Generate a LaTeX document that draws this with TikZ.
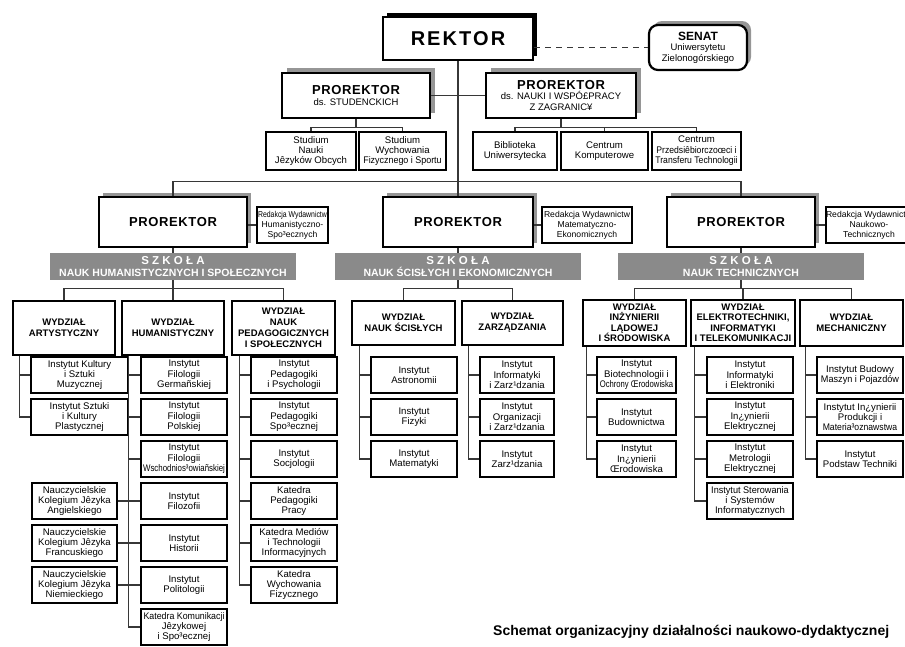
\documentclass[tikz,border=0pt]{standalone}
\usepackage{fontspec}
\usepackage{graphicx}
\setmainfont{Liberation Sans}
\definecolor{barg}{RGB}{138,138,138}
\definecolor{shg}{RGB}{150,150,150}
\definecolor{lng}{RGB}{55,55,55}
\tikzset{
  conn/.style={draw=lng, line width=1.1pt},
  inst/.style={draw=black, line width=1.3pt, fill=white, align=center, inner sep=0pt, font=\fontsize{9.6}{10.4}\selectfont},
  wydz/.style={draw=black, line width=2.5pt, fill=white, align=center, inner sep=0pt, font=\fontsize{9.5}{11}\selectfont\bfseries},
  prbox/.style={draw=black, line width=2.6pt, fill=white, align=center, inner sep=0pt},
  barbox/.style={fill=barg, draw=none, text=white, align=center, inner sep=0pt, font=\fontsize{10.5}{11.5}\selectfont\bfseries},
}
\newcommand\obox[7]{\node[#1,minimum width={(#5-#3)*1pt},minimum height={(#6-#4)*1pt}] (#2) at ({(#3+#5)/2},{(#4+#6)/2}) {#7};}
\newcommand\instbox[6][]{\node[inst,#1,minimum width={(#4-#3)*1pt},minimum height=36pt] (#2) at ({(#3+#4)/2},{375+42*#5}) {#6};}
\newcommand\sq[2]{\scalebox{#1}[1]{#2}}
\newcommand\prorek{P\kern.6pt R\kern.6pt O\kern.6pt R\kern.6pt E\kern.6pt K\kern.6pt T\kern.6pt O\kern.6pt R}
\newcommand\szkola{{\fontsize{11.5}{12}\selectfont S\kern3.2pt Z\kern3.2pt K\kern3.2pt O\kern3.2pt Ł\kern3.2pt A}}
\begin{document}
\begin{tikzpicture}[x=1pt,y=-1pt]
\useasboundingbox (0,0) rectangle (905,646);
% shadows
\fill[black] (387,13) rectangle (537,56);
\fill[shg, rounded corners=9pt] (653,21) rectangle (751,66);
\fill[shg] (287,68) rectangle (435,113);
\fill[shg] (491,68) rectangle (641,113);
\fill[shg] (103,193) rectangle (251,243);
\fill[shg] (387,193) rectangle (537,243);
\fill[shg] (671,193) rectangle (819,243);
% top level
\obox{prbox,line width=2.8pt}{rek}{383}{17}{533}{60}{\fontsize{20}{22}\selectfont\bfseries R\kern2pt E\kern2pt K\kern2pt T\kern2pt O\kern2pt R}
\obox{draw,line width=2.2pt,rounded corners=9pt,fill=white,align=center,inner sep=0pt,font=\fontsize{9.5}{10.5}\selectfont}{sen}{649}{25}{747}{70}{{\fontsize{12}{13}\selectfont\bfseries SENAT}\\Uniwersytetu\\Zielonogórskiego}
\obox{prbox,font=\fontsize{9.5}{11}\selectfont}{ps}{282}{73}{430}{118}{{\fontsize{13}{15}\selectfont\bfseries\prorek}\\ds. STUDENCKICH}
\obox{prbox,font=\fontsize{9.5}{10.5}\selectfont}{pn}{486}{73}{636}{118}{{\fontsize{13}{15}\selectfont\bfseries\prorek}\\ds. NAUKI I WSPÓ£PRACY\\Z ZAGRANIC¥}
\obox{inst}{sA}{266}{132}{356}{170}{Studium\\Nauki\\Jêzyków Obcych}
\obox{inst}{sB}{359}{132}{446}{170}{Studium\\Wychowania\\\sq{0.93}{Fizycznego i Sportu}}
\obox{inst}{sC}{473}{132}{557}{170}{Biblioteka\\Uniwersytecka}
\obox{inst}{sD}{561}{132}{648}{170}{Centrum\\Komputerowe}
\obox{inst}{sE}{652}{132}{741}{170}{Centrum\\\sq{0.9}{Przedsiêbiorczoœci i}\\\sq{0.9}{Transferu Technologii}}
% prorektor row
\obox{prbox}{lp}{99}{197}{247}{247}{\fontsize{13}{15}\selectfont\bfseries\prorek}
\obox{prbox}{mp}{383}{197}{533}{247}{\fontsize{13}{15}\selectfont\bfseries\prorek}
\obox{prbox}{rp}{667}{197}{815}{247}{\fontsize{13}{15}\selectfont\bfseries\prorek}
\obox{inst,font=\fontsize{8.6}{10}\selectfont}{lr}{257}{207}{328}{243}{\sq{0.8}{Redakcja Wydawnictw}\\Humanistyczno-\\Spo³ecznych}
\obox{inst,font=\fontsize{8.6}{10}\selectfont}{mr}{542}{207}{632}{243}{Redakcja Wydawnictw\\Matematyczno-\\Ekonomicznych}
\obox{inst,font=\fontsize{8.6}{10}\selectfont}{rr}{826}{207}{912}{243}{Redakcja Wydawnictw\\Naukowo-\\Technicznych}
\obox{barbox}{lb}{50}{253}{296}{280}{\szkola\\NAUK HUMANISTYCZNYCH I SPOŁECZNYCH}
\obox{barbox}{mb}{335}{253}{581}{280}{\szkola\\NAUK ŚCISŁYCH I EKONOMICZNYCH}
\obox{barbox}{rb}{618}{253}{864}{280}{\szkola\\NAUK TECHNICZNYCH}
% wydzialy
\obox{wydz}{W1}{13}{301}{115}{355}{WYDZIAŁ\\ARTYSTYCZNY}
\obox{wydz}{W2}{122}{301}{224}{355}{WYDZIAŁ\\HUMANISTYCZNY}
\obox{wydz}{W3}{232}{301}{335}{355}{WYDZIAŁ\\NAUK\\PEDAGOGICZNYCH\\I SPOŁECZNYCH}
\obox{wydz}{W4}{352}{301}{455}{345}{WYDZIAŁ\\NAUK ŚCISŁYCH}
\obox{wydz}{W5}{462}{301}{563}{345}{WYDZIAŁ\\ZARZĄDZANIA}
\obox{wydz,font=\fontsize{9.5}{10.5}\selectfont\bfseries}{W6}{583}{300}{686}{346}{WYDZIAŁ\\INŻYNIERII\\LĄDOWEJ\\I ŚRODOWISKA}
\obox{wydz,font=\fontsize{9.5}{10.5}\selectfont\bfseries}{W7}{691}{300}{795}{346}{WYDZIAŁ\\ELEKTROTECHNIKI,\\INFORMATYKI\\I TELEKOMUNIKACJI}
\obox{wydz}{W8}{800}{300}{903}{346}{WYDZIAŁ\\MECHANICZNY}
% instytuty
\instbox{a1}{31}{128}{0}{Instytut Kultury\\i Sztuki\\Muzycznej}
\instbox{a2}{31}{128}{1}{Instytut Sztuki\\i Kultury\\Plastycznej}
\instbox{h1}{141}{227}{0}{Instytut\\Filologii\\Germañskiej}
\instbox{h2}{141}{227}{1}{Instytut\\Filologii\\Polskiej}
\instbox{h3}{141}{227}{2}{Instytut\\Filologii\\\sq{0.82}{Wschodnios³owiañskiej}}
\instbox{h4}{141}{227}{3}{Instytut\\Filozofii}
\instbox{h5}{141}{227}{4}{Instytut\\Historii}
\instbox{h6}{141}{227}{5}{Instytut\\Politologii}
\instbox{h7}{141}{227}{6}{\sq{0.92}{Katedra Komunikacji}\\Jêzykowej\\i Spo³ecznej}
\instbox{n1}{32}{117}{3}{Nauczycielskie\\Kolegium Jêzyka\\Angielskiego}
\instbox{n2}{32}{117}{4}{Nauczycielskie\\Kolegium Jêzyka\\Francuskiego}
\instbox{n3}{32}{117}{5}{Nauczycielskie\\Kolegium Jêzyka\\Niemieckiego}
\instbox{p1}{251}{337}{0}{Instytut\\Pedagogiki\\i Psychologii}
\instbox{p2}{251}{337}{1}{Instytut\\Pedagogiki\\Spo³ecznej}
\instbox{p3}{251}{337}{2}{Instytut\\Socjologii}
\instbox{p4}{251}{337}{3}{Katedra\\Pedagogiki\\Pracy}
\instbox{p5}{251}{337}{4}{Katedra Mediów\\i Technologii\\Informacyjnych}
\instbox{p6}{251}{337}{5}{Katedra\\Wychowania\\Fizycznego}
\instbox{e1}{371}{457}{0}{Instytut\\Astronomii}
\instbox{e2}{371}{457}{1}{Instytut\\Fizyki}
\instbox{e3}{371}{457}{2}{Instytut\\Matematyki}
\instbox{z1}{480}{554}{0}{Instytut\\Informatyki\\i Zarz¹dzania}
\instbox{z2}{480}{554}{1}{Instytut\\Organizacji\\i Zarz¹dzania}
\instbox{z3}{480}{554}{2}{Instytut\\Zarz¹dzania}
\instbox{l1}{597}{676}{0}{Instytut\\Biotechnologii i\\\sq{0.8}{Ochrony Œrodowiska}}
\instbox{l2}{597}{676}{1}{Instytut\\Budownictwa}
\instbox{l3}{597}{676}{2}{Instytut\\In¿ynierii\\Œrodowiska}
\instbox{t1}{707}{793}{0}{Instytut\\Informatyki\\i Elektroniki}
\instbox{t2}{707}{793}{1}{Instytut\\In¿ynierii\\Elektrycznej}
\instbox{t3}{707}{793}{2}{Instytut\\Metrologii\\Elektrycznej}
\instbox{t4}{707}{793}{3}{\sq{0.95}{Instytut Sterowania}\\i Systemów\\Informatycznych}
\instbox{m1}{817}{903}{0}{Instytut Budowy\\\sq{0.95}{Maszyn i Pojazdów}}
\instbox{m2}{817}{903}{1}{Instytut In¿ynierii\\Produkcji i\\\sq{0.9}{Materia³oznawstwa}}
\instbox{m3}{817}{903}{2}{Instytut\\Podstaw Techniki}
% caption
\node[font=\fontsize{14}{16}\selectfont\bfseries, anchor=west, inner sep=0pt] (cap) at (493,632) {Schemat organizacyjny działalności naukowo-dydaktycznej};
% connectors top
\draw[conn] (rek.south) -- (mp.north);
\draw[draw=lng, line width=1.1pt, dash pattern=on 6pt off 5pt] (sen.west -| rek.east) -- (sen.west);
\draw[conn] (ps.east) -- (pn.west);
\draw[conn] (ps.south) -- ++(0,8) coordinate (psb);
\draw[conn] (sA.north) |- (psb) -| (sB.north);
\draw[conn] (pn.south) -- ++(0,8) coordinate (pnb);
\draw[conn] (sC.north) |- (pnb) -| (sE.north);
\draw[conn] (sD.north) -- (sD.north |- pnb);
% prorektor row
\draw[conn] (lp.north) -- ++(0,-14) -| (rp.north);
\draw[conn] (lp.east |- lr.west) -- (lr.west);
\draw[conn] (mp.east |- mr.west) -- (mr.west);
\draw[conn] (rp.east |- rr.west) -- (rr.west);
\draw[conn] (lp.south) -- (lb.north);
\draw[conn] (mp.south) -- (mb.north);
\draw[conn] (rp.south) -- (rb.north);
% school brackets
\draw[conn] (lb.south) -- ++(0,8) coordinate (lbb);
\draw[conn] (W1.north) |- (lbb) -| (W3.north);
\draw[conn] (W2.north) -- (W2.north |- lbb);
\draw[conn] (mb.south) -- ++(0,8) coordinate (mbb);
\draw[conn] (W4.north) |- (mbb) -| (W5.north);
\draw[conn] (rb.south) -- ++(0,8) coordinate (rbb);
\draw[conn] (W6.north) |- (rbb) -| (W8.north);
\draw[conn] (W7.north) -- (W7.north |- rbb);
% spines
\foreach \n in {a1,a2} \draw[conn] ([xshift=8pt]W1.south west) |- (\n.west);
\foreach \n in {h1,h2,h3,h4,h5,h6,h7} \draw[conn] ([xshift=8pt]W2.south west) |- (\n.west);
\foreach \n in {p1,p2,p3,p4,p5,p6} \draw[conn] ([xshift=9pt]W3.south west) |- (\n.west);
\foreach \n in {e1,e2,e3} \draw[conn] ([xshift=9pt]W4.south west) |- (\n.west);
\foreach \n in {z1,z2,z3} \draw[conn] ([xshift=8pt]W5.south west) |- (\n.west);
\foreach \n in {l1,l2,l3} \draw[conn] ([xshift=5pt]W6.south west) |- (\n.west);
\foreach \n in {t1,t2,t3,t4} \draw[conn] ([xshift=5pt]W7.south west) |- (\n.west);
\foreach \n in {m1,m2,m3} \draw[conn] ([xshift=7pt]W8.south west) |- (\n.west);
\draw[conn] (n1.east) -- (h4.west);
\draw[conn] (n2.east) -- (h5.west);
\draw[conn] (n3.east) -- (h6.west);
\end{tikzpicture}
\end{document}
